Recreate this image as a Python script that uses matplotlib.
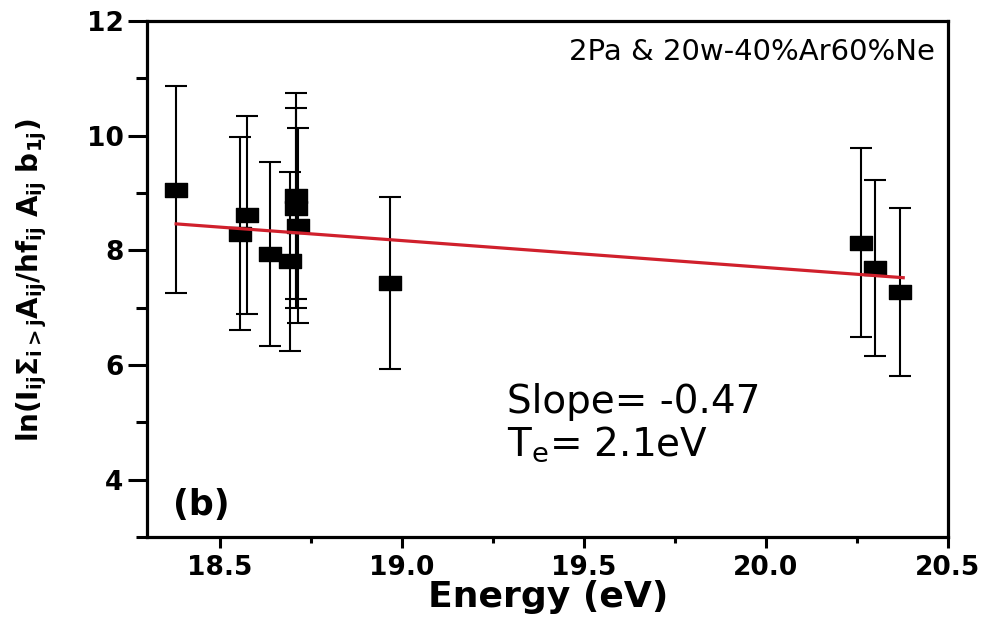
import matplotlib
matplotlib.use("Agg")
import matplotlib.pyplot as plt
from matplotlib.ticker import MultipleLocator
from matplotlib.path import Path

# Boltzmann-plot points: upper-level energy, log intensity term and its uncertainty
energy_ev = [18.38, 18.555, 18.574, 18.637, 18.708, 18.708, 18.716, 18.692,
             18.968, 20.262, 20.300, 20.368]
ln_term = [9.06, 8.29, 8.62, 7.94, 8.95, 8.74, 8.43, 7.81,
           7.43, 8.13, 7.69, 7.27]
ln_err = [1.81, 1.68, 1.73, 1.60, 1.80, 1.75, 1.70, 1.56,
          1.50, 1.65, 1.53, 1.47]

# Linear fit reported on the plot
fit_slope = -0.47
fit_intercept = 17.10
fit_range = [18.38, 20.377]

condition_label = "2Pa & 20w-40%Ar60%Ne"
slope_label = "Slope= -0.47"
te_label = r"T$_\mathregular{e}$= 2.1eV"
panel_label = "(b)"

x_ticks = [18.5, 19.0, 19.5, 20.0, 20.5]
y_ticks = [4, 6, 8, 10, 12]

plt.rcParams["font.family"] = ["DejaVu Sans"]
plt.rcParams["mathtext.fontset"] = "dejavusans"

W, H = 989, 623
fig = plt.figure(figsize=(W / 100, H / 100), dpi=100)
ax = fig.add_axes([147 / W, 1 - 537 / H, (948 - 147) / W, (537 - 21) / H])

# wide rectangular marker
rect = Path([(-1, -0.62), (1, -0.62), (1, 0.62), (-1, 0.62), (-1, -0.62)],
            [Path.MOVETO, Path.LINETO, Path.LINETO, Path.LINETO, Path.CLOSEPOLY])

ax.errorbar(energy_ev, ln_term, yerr=ln_err, fmt="none", ecolor="black",
            elinewidth=1.5, capsize=8, capthick=1.5, zorder=2)
ax.plot(energy_ev, ln_term, linestyle="none", marker=rect, markersize=16,
        color="black", zorder=3)

fit_y = [fit_slope * x + fit_intercept for x in fit_range]
ax.plot(fit_range, fit_y, color="#d0202c", linewidth=2.3, zorder=4)

ax.set_xlim(18.3, 20.5)
ax.set_ylim(3, 12)
ax.set_xticks(x_ticks)
ax.set_xticklabels([f"{t:.1f}" for t in x_ticks])
ax.set_yticks(y_ticks)
ax.xaxis.set_minor_locator(MultipleLocator(0.25))
ax.yaxis.set_minor_locator(MultipleLocator(1))

for s in ax.spines.values():
    s.set_linewidth(2.3)

ax.tick_params(axis="x", which="major", direction="out", length=8, width=2.2,
               pad=5, labelsize=19)
ax.tick_params(axis="x", which="minor", direction="out", length=4, width=2.2)
ax.tick_params(axis="y", which="major", direction="out", length=14, width=2.2,
               pad=3, labelsize=19)
ax.tick_params(axis="y", which="minor", direction="out", length=8, width=2.2)
for lab in ax.get_xticklabels() + ax.get_yticklabels():
    lab.set_fontweight("bold")

fig.text(548 / W, 1 - 607 / H, "Energy (eV)", ha="center", va="baseline",
         fontsize=26, fontweight="bold")
fig.text(32 / W, 1 - 280 / H,
         r"$\mathbf{ln(I_{ij}\Sigma_{i>j}A_{ij}/hf_{ij}\ A_{ij}\ b_{1j})}$",
         rotation=90, ha="center", va="center", fontsize=20)

fig.text(935 / W, 1 - 60 / H, condition_label, ha="right", va="baseline",
         fontsize=21)
fig.text(507 / W, 1 - 413 / H, slope_label, ha="left", va="baseline",
         fontsize=28)
fig.text(507 / W, 1 - 456 / H, te_label, ha="left", va="baseline",
         fontsize=28)
fig.text(173 / W, 1 - 515 / H, panel_label, ha="left", va="baseline",
         fontsize=25, fontweight="bold")

fig.savefig("out.png", dpi=100)
